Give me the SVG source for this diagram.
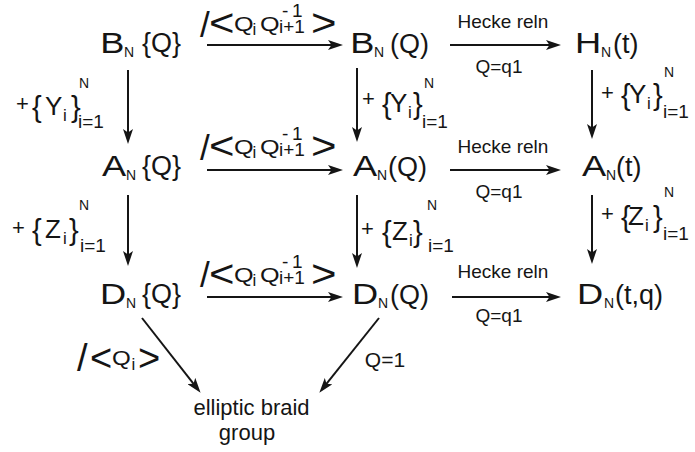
<svg xmlns="http://www.w3.org/2000/svg" width="695" height="452" viewBox="0 0 695 452">
  <style>
    text { font-family: 'Liberation Sans', Arial, sans-serif; fill: #151515; }
    .big { font-size: 29px; }
    .sub { font-size: 14px; }
    .mid { font-size: 27px; }
    .lbl { font-size: 19px; }
    .lbl21 { font-size: 21px; }
    .rel { font-size: 38px; }
    .sl { font-size: 35px; }
    .q { font-size: 21px; }
    .s17 { font-size: 17px; }
    .s19 { font-size: 19px; }
    .pl { font-size: 22px; }
    .br { font-size: 29px; }
    .gen { font-size: 26px; }
    .cap { font-size: 22px; }
    .edge { stroke: #151515; stroke-width: 2; fill: none; marker-end: url(#head); }
  </style>
  <defs>
    <marker id="head" viewBox="0 0 15 10" refX="4" refY="5" markerWidth="15" markerHeight="10" markerUnits="userSpaceOnUse" orient="auto">
      <path d="M0,0 L15,5 L0,10 L3.5,5 Z" fill="#151515"/>
    </marker>
  </defs>

  <!-- connectors -->
  <g id="connectors">
    <path class="edge" d="M207,45 H332"/>
    <path class="edge" d="M450,45 H550"/>
    <path class="edge" d="M207,170 H332"/>
    <path class="edge" d="M450,170 H550"/>
    <path class="edge" d="M207,297 H332"/>
    <path class="edge" d="M452,297 H550"/>
    <path class="edge" d="M128,70 V133"/>
    <path class="edge" d="M357,68 V131"/>
    <path class="edge" d="M592,70 V128"/>
    <path class="edge" d="M128,195 V255"/>
    <path class="edge" d="M357,195 V257"/>
    <path class="edge" d="M592,195 V253"/>
    <path class="edge" d="M142,318 L193.8,384.1"/>
    <path class="edge" d="M379,318 L326.2,384.2"/>
  </g>

  <!-- quotient labels on the left horizontal arrows -->
  <g id="quotient-labels">
    <g id="quot-row1">
      <text class="sl" x="200" y="37">/</text>
      <text class="rel" transform="translate(209,36) scale(1.15,1)">&lt;</text>
      <text class="q" transform="translate(234,31) scale(1.2,1)">Q</text>
      <text class="s17" x="252.5" y="35">i</text>
      <text class="q" transform="translate(260,31) scale(1.2,1)">Q</text>
      <text class="s19" x="279" y="33">i+1</text>
      <text class="s19" x="282" y="17">-</text>
      <text class="s19" x="292" y="17">1</text>
      <text class="rel" transform="translate(311,36) scale(1.15,1)">&gt;</text>
    </g>
    <g id="quot-row2">
      <text class="sl" x="200" y="160">/</text>
      <text class="rel" transform="translate(209,159) scale(1.15,1)">&lt;</text>
      <text class="q" transform="translate(234,154) scale(1.2,1)">Q</text>
      <text class="s17" x="252.5" y="158">i</text>
      <text class="q" transform="translate(260,154) scale(1.2,1)">Q</text>
      <text class="s19" x="279" y="156">i+1</text>
      <text class="s19" x="282" y="140">-</text>
      <text class="s19" x="292" y="140">1</text>
      <text class="rel" transform="translate(311,159) scale(1.15,1)">&gt;</text>
    </g>
    <g id="quot-row3">
      <text class="sl" x="200" y="287">/</text>
      <text class="rel" transform="translate(209,287) scale(1.15,1)">&lt;</text>
      <text class="q" transform="translate(234,282) scale(1.2,1)">Q</text>
      <text class="s17" x="252.5" y="286">i</text>
      <text class="q" transform="translate(260,282) scale(1.2,1)">Q</text>
      <text class="s19" x="279" y="284">i+1</text>
      <text class="s19" x="282" y="268">-</text>
      <text class="s19" x="292" y="268">1</text>
      <text class="rel" transform="translate(311,287) scale(1.15,1)">&gt;</text>
    </g>
    <g id="quot-diag">
      <text class="rel" x="77" y="371">/</text>
      <text class="rel" x="90" y="371">&lt;</text>
      <text class="q" transform="translate(112,365) scale(1.15,1)">Q</text>
      <text class="s17" x="131.5" y="370">i</text>
      <text class="rel" x="138" y="371">&gt;</text>
    </g>
  </g>

  <!-- Hecke relation labels -->
  <g id="hecke-labels" text-anchor="middle">
    <text class="lbl" x="503" y="28">Hecke reln</text>
    <text class="lbl" x="499" y="73">Q=q1</text>
    <text class="lbl" x="503" y="153">Hecke reln</text>
    <text class="lbl" x="499" y="198">Q=q1</text>
    <text class="lbl" x="503" y="278">Hecke reln</text>
    <text class="lbl" x="499" y="322">Q=q1</text>
    <text class="lbl21" x="385" y="367">Q=1</text>
  </g>

  <!-- generator labels on the vertical arrows -->
  <g id="generator-labels">
    <g id="gen-Y-left">
      <text class="pl" x="16" y="111">+</text>
      <text class="br" x="32" y="117">{</text>
      <text class="gen" x="45" y="115">Y</text>
      <text class="s17" x="63" y="121">i</text>
      <text class="br" x="71" y="117">}</text>
      <text class="sub" x="79" y="88">N</text>
      <text class="s19" x="78" y="128">i=1</text>
    </g>
    <g id="gen-Y-mid">
      <text class="pl" x="362" y="106">+</text>
      <text class="br" x="382" y="114">{</text>
      <text class="gen" x="390" y="112">Y</text>
      <text class="s17" x="408" y="118">i</text>
      <text class="br" x="413" y="114">}</text>
      <text class="sub" x="424" y="88">N</text>
      <text class="s19" x="422" y="128">i=1</text>
    </g>
    <g id="gen-Y-right">
      <text class="pl" x="601" y="100">+</text>
      <text class="br" x="621" y="105">{</text>
      <text class="gen" x="629" y="103">Y</text>
      <text class="s17" x="647" y="109">i</text>
      <text class="br" x="653" y="105">}</text>
      <text class="sub" x="664" y="77">N</text>
      <text class="s19" x="663" y="118">i=1</text>
    </g>
    <g id="gen-Z-left">
      <text class="pl" x="12" y="235">+</text>
      <text class="br" x="32" y="240">{</text>
      <text class="gen" x="45" y="238">Z</text>
      <text class="s17" x="63" y="244">i</text>
      <text class="br" x="69" y="240">}</text>
      <text class="sub" x="79" y="210">N</text>
      <text class="s19" x="80" y="252">i=1</text>
    </g>
    <g id="gen-Z-mid">
      <text class="pl" x="361" y="236">+</text>
      <text class="br" x="382" y="242">{</text>
      <text class="gen" x="392" y="240">Z</text>
      <text class="s17" x="409" y="246">i</text>
      <text class="br" x="413" y="242">}</text>
      <text class="sub" x="427" y="210">N</text>
      <text class="s19" x="428" y="252">i=1</text>
    </g>
    <g id="gen-Z-right">
      <text class="pl" x="601" y="221">+</text>
      <text class="br" x="621" y="227">{</text>
      <text class="gen" x="628" y="225">Z</text>
      <text class="s17" x="645" y="231">i</text>
      <text class="br" x="653" y="227">}</text>
      <text class="sub" x="664" y="197">N</text>
      <text class="s19" x="663" y="240">i=1</text>
    </g>
  </g>

  <!-- row 1 -->
  <g id="node-BN-braid">
    <text class="big" transform="translate(100.3,53) scale(1.25,1)">B</text>
    <text class="sub" x="124" y="57">N</text>
    <text class="mid" x="142" y="52">{Q}</text>
  </g>
  <g id="node-BN-Q">
    <text class="big" transform="translate(350.3,53) scale(1.25,1)">B</text>
    <text class="sub" x="374" y="57">N</text>
    <text class="mid" x="390" y="53">(Q)</text>
  </g>
  <g id="node-HN">
    <text class="big" transform="translate(575.1,53) scale(1.25,1)">H</text>
    <text class="sub" x="601" y="57">N</text>
    <text class="mid" x="613" y="53">(t)</text>
  </g>

  <!-- row 2 -->
  <g id="node-AN-braid">
    <text class="big" transform="translate(102,176) scale(1.25,1)">A</text>
    <text class="sub" x="126" y="180">N</text>
    <text class="mid" x="142" y="175">{Q}</text>
  </g>
  <g id="node-AN-Q">
    <text class="big" transform="translate(353,176) scale(1.25,1)">A</text>
    <text class="sub" x="377" y="180">N</text>
    <text class="mid" x="388" y="176">(Q)</text>
  </g>
  <g id="node-AN-t">
    <text class="big" transform="translate(582,176) scale(1.25,1)">A</text>
    <text class="sub" x="606" y="180">N</text>
    <text class="mid" x="616" y="176">(t)</text>
  </g>

  <!-- row 3 -->
  <g id="node-DN-braid">
    <text class="big" transform="translate(100.1,304) scale(1.25,1)">D</text>
    <text class="sub" x="126" y="308">N</text>
    <text class="mid" x="142" y="303">{Q}</text>
  </g>
  <g id="node-DN-Q">
    <text class="big" transform="translate(352.1,304) scale(1.25,1)">D</text>
    <text class="sub" x="378" y="308">N</text>
    <text class="mid" x="390" y="304">(Q)</text>
  </g>
  <g id="node-DN-tq">
    <text class="big" transform="translate(577.1,304) scale(1.25,1)">D</text>
    <text class="sub" x="604" y="308">N</text>
    <text class="mid" x="615" y="304">(t,q)</text>
  </g>

  <!-- bottom -->
  <g id="node-elliptic" text-anchor="middle">
    <text class="cap" x="251.5" y="415">elliptic braid</text>
    <text class="cap" x="247" y="440">group</text>
  </g>
</svg>
